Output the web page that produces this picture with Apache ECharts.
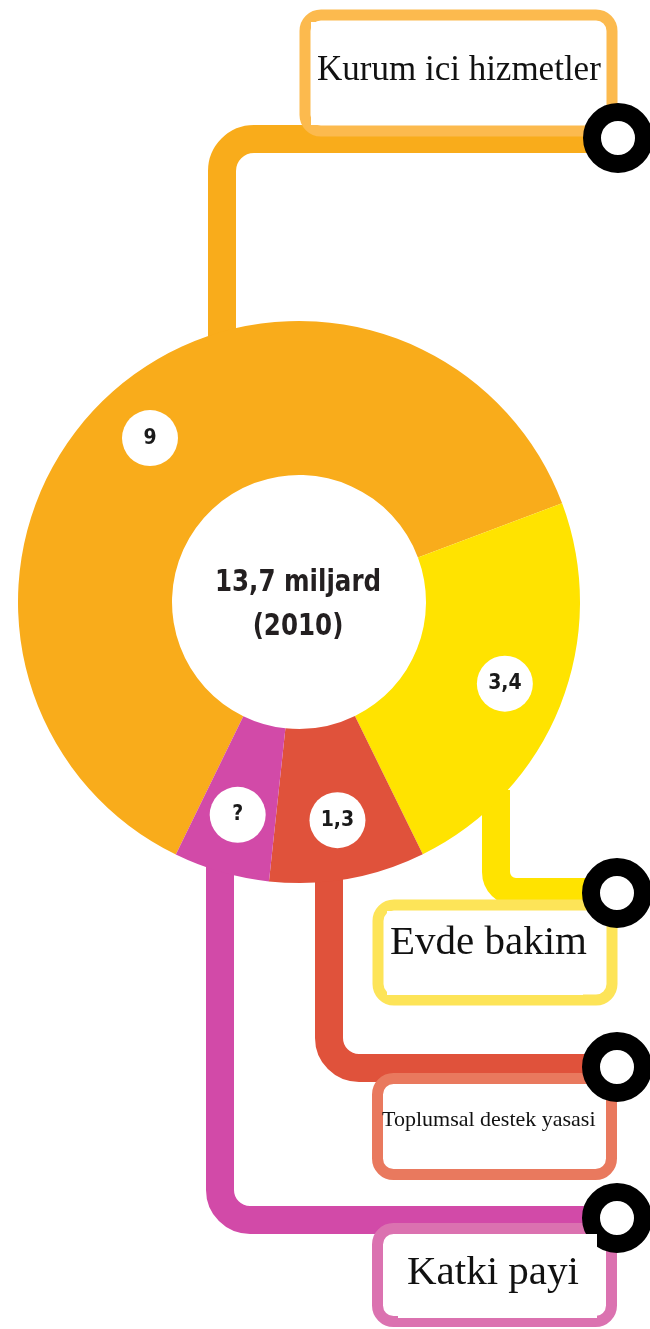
<!DOCTYPE html>
<html>
<head>
<meta charset="utf-8">
<script src="https://cdn.jsdelivr.net/npm/echarts@6/dist/echarts.min.js"></script>
<style>
  html, body { margin: 0; padding: 0; background: #fff; }
  #chart { width: 650px; height: 1329px; }
</style>
</head>
<body>
<div id="chart"></div>
<script>
// data (values in miljard, "?" slice estimated from its angle)
const categories = ['Kurum ici hizmetler', 'Evde bakim', 'Toplumsal destek yasasi', 'Katki payi'];
const values = [9, 3.4, 1.3, 0.8];
const valueLabels = ['9', '3,4', '1,3', '?'];
const totalLabel = '13,7 miljard';
const yearLabel = '(2010)';

const sliceColors = ['#F9AC1B', '#FFE300', '#E0523B', '#D24AA8'];
const boxColors = ['#FCBA4E', '#FDE458', '#E9795E', '#DB72B0'];

const boldFont = '"DejaVu Sans Condensed", "Liberation Sans Narrow", Roboto, sans-serif';
const serifFont = '"Liberation Serif", "DejaVu Serif", serif';

// connector / label box layout, one entry per category
// x: vertical run, y0: where it leaves the ring, y1: horizontal run, rad: corner radius
const layout = [
    { x: 222, y0: 360, y1: 139, rad: 32, ring: [618, 138],
      box: [305, 15, 307, 116], cover: [311, 22, 274, 103], text: [317, 71], size: 35 },
    { x: 496, y0: 790, y1: 892, rad: 20, ring: [617, 893],
      box: [378, 905, 234, 95], cover: [387, 911, 196, 84], text: [390, 943], size: 41 },
    { x: 329, y0: 860, y1: 1068, rad: 30, ring: [617, 1067],
      box: [377.5, 1078.5, 234, 96], cover: [387, 1087, 196, 76], text: [382, 1120], size: 22 },
    { x: 220, y0: 850, y1: 1220, rad: 30, ring: [617, 1218],
      box: [377.5, 1228.5, 234, 93], cover: [398, 1234, 199, 84], text: [407, 1273], size: 41 }
];

const chart = echarts.init(document.getElementById('chart'));

function connector(l, color) {
    const up = l.y1 < l.y0;
    const cy = up ? l.y1 + l.rad : l.y1 - l.rad;
    const style = { stroke: color, lineWidth: 28, fill: null };
    return [
        { type: 'line', z: 1, shape: { x1: l.x, y1: l.y0, x2: l.x, y2: cy }, style: style },
        {
            type: 'arc', z: 1,
            shape: {
                cx: l.x + l.rad, cy: cy, r: l.rad,
                startAngle: up ? Math.PI : Math.PI / 2,
                endAngle: up ? Math.PI * 1.5 : Math.PI,
                clockwise: true
            },
            style: style
        },
        { type: 'line', z: 1, shape: { x1: l.x + l.rad, y1: l.y1, x2: l.ring[0], y2: l.y1 }, style: style }
    ];
}

let graphics = [];
layout.forEach((l, i) => {
    graphics = graphics.concat(connector(l, sliceColors[i]));
    graphics.push({
        type: 'rect', z: 5,
        shape: { x: l.box[0], y: l.box[1], width: l.box[2], height: l.box[3], r: 16 },
        style: { fill: '#fff', stroke: boxColors[i], lineWidth: 11 }
    });
    graphics.push({
        type: 'circle', z: 6,
        shape: { cx: l.ring[0], cy: l.ring[1], r: 26 },
        style: { fill: '#fff', stroke: '#000', lineWidth: 18 }
    });
    graphics.push({
        type: 'rect', z: 7,
        shape: { x: l.cover[0], y: l.cover[1], width: l.cover[2], height: l.cover[3] },
        style: { fill: '#fff' }
    });
    graphics.push({
        type: 'text', z: 8,
        x: l.text[0], y: l.text[1],
        style: {
            text: categories[i],
            font: l.size + 'px ' + serifFont,
            fill: '#111',
            textAlign: 'left',
            textVerticalAlign: 'middle'
        }
    });
});

// total in the hole, squeezed a little to look like the condensed original
graphics.push({
    type: 'text', z: 8,
    x: 298, y: 605,
    scaleX: 0.88,
    style: {
        text: totalLabel + '\n' + yearLabel,
        font: 'bold 31px ' + boldFont,
        lineHeight: 44,
        fill: '#231F20',
        textAlign: 'center',
        textVerticalAlign: 'middle'
    }
});

const pieData = categories.map((name, i) => ({
    name: name,
    value: values[i],
    itemStyle: { color: sliceColors[i] }
}));

const option = {
    animation: false,
    backgroundColor: '#fff',
    series: [
        {
            type: 'pie',
            z: 2,
            silent: true,
            center: [299, 602],
            radius: [127, 281],
            startAngle: 244,
            clockwise: true,
            avoidLabelOverlap: false,
            label: { show: false },
            labelLine: { show: false },
            itemStyle: { borderWidth: 0 },
            data: pieData
        },
        {
            // white value badges sitting on the ring
            type: 'pie',
            z: 3,
            silent: true,
            center: [299, 602],
            radius: [156, 281],
            startAngle: 244,
            clockwise: true,
            avoidLabelOverlap: false,
            itemStyle: { color: 'transparent', borderWidth: 0 },
            labelLine: { show: false },
            label: {
                show: true,
                position: 'inside',
                rotate: 0,
                formatter: p => valueLabels[p.dataIndex],
                backgroundColor: '#fff',
                borderRadius: 28,
                width: 56,
                height: 56,
                lineHeight: 56,
                align: 'center',
                verticalAlign: 'middle',
                color: '#1A1A1A',
                fontSize: 21,
                fontWeight: 'bold',
                fontFamily: boldFont
            },
            data: categories.map((name, i) => ({ name: name, value: values[i] }))
        }
    ],
    graphic: graphics
};

chart.setOption(option);
window.addEventListener('resize', () => chart.resize());
</script>
</body>
</html>
